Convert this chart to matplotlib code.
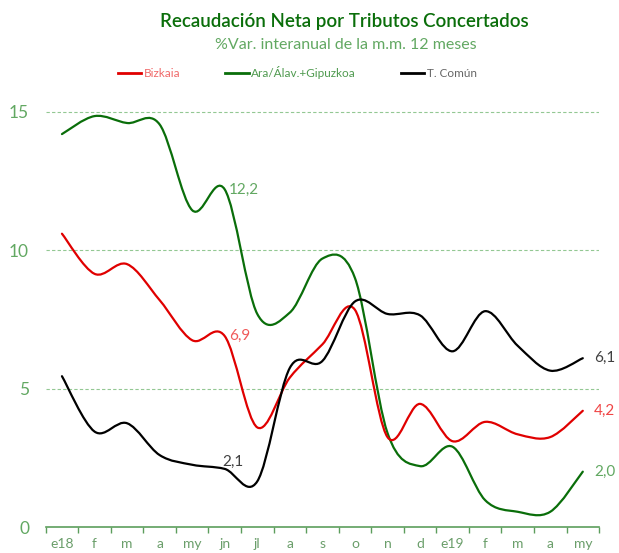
import numpy as np
import matplotlib
matplotlib.use("Agg")
import matplotlib.pyplot as plt
from matplotlib.path import Path
from matplotlib.patches import PathPatch
from matplotlib.lines import Line2D

plt.rcParams["font.family"] = ["Lato", "DejaVu Sans"]

months = ["e18", "f", "m", "a", "my", "jn", "jl", "a", "s", "o", "n", "d",
          "e19", "f", "m", "a", "my"]
bizkaia = [10.6, 9.15, 9.5, 8.2, 6.75, 6.9, 3.6, 5.4, 6.6, 7.85, 3.25, 4.45,
           3.1, 3.8, 3.35, 3.25, 4.2]
ara_gip = [14.2, 14.85, 14.6, 14.55, 11.45, 12.2, 7.7, 7.75, 9.7, 9.0, 3.4, 2.2,
           2.9, 0.97, 0.55, 0.55, 2.0]
t_comun = [5.45, 3.45, 3.75, 2.6, 2.25, 2.1, 1.65, 5.75, 6.0, 8.15, 7.7, 7.65,
           6.35, 7.8, 6.55, 5.65, 6.1]

RED = "#e00000"
GREEN = "#0a6e0a"
BLACK = "#000000"
LGREEN = "#62a862"
AXGREEN = "#5c9e5c"


def smooth_path(y):
    # excel-like smoothed line: bezier through every point
    x = np.arange(len(y), dtype=float)
    y = np.asarray(y, dtype=float)
    pts = np.column_stack([x, y])
    verts = [pts[0]]
    codes = [Path.MOVETO]
    n = len(pts)
    for i in range(n - 1):
        p0 = pts[max(i - 1, 0)]
        p1 = pts[i]
        p2 = pts[i + 1]
        p3 = pts[min(i + 2, n - 1)]
        c1 = p1 + (p2 - p0) / 6.0
        c2 = p2 - (p3 - p1) / 6.0
        verts += [c1, c2, p2]
        codes += [Path.CURVE4] * 3
    return Path(verts, codes)


fig = plt.figure(figsize=(6.19, 5.53), dpi=100)
ax = fig.add_axes([0.0738, 0.047, 0.894, 0.8006])

for val in [5, 10, 15]:
    ax.axhline(val, color="#93c893", lw=0.8, ls=(0, (3, 2)), zorder=1)

for series, col in [(ara_gip, GREEN), (bizkaia, RED), (t_comun, BLACK)]:
    patch = PathPatch(smooth_path(series), fill=False, edgecolor=col, lw=1.6,
                      capstyle="round", joinstyle="round", zorder=3)
    ax.add_patch(patch)

ax.set_xlim(-0.5, len(months) - 0.5)
ax.set_ylim(0, 16)

for s in ["top", "right", "left"]:
    ax.spines[s].set_visible(False)
ax.spines["bottom"].set_color(AXGREEN)
ax.spines["bottom"].set_linewidth(1.2)

ax.set_xticks(np.arange(len(months)))
ax.set_xticklabels(months)
ax.set_xticks(np.arange(len(months) + 1) - 0.5, minor=True)
ax.tick_params(axis="x", which="major", length=0, pad=8, labelsize=10,
               labelcolor="#6a9e6a")
ax.tick_params(axis="x", which="minor", length=4, width=1, color=AXGREEN,
               direction="out")
ax.set_yticks([0, 5, 10, 15])
ax.tick_params(axis="y", length=0, pad=12, labelsize=12.5, labelcolor=LGREEN)

# data labels
lab = dict(fontsize=11, va="center", ha="left")
ax.annotate("12,2", (5, ara_gip[5]), xytext=(3, 0), textcoords="offset points",
            color=LGREEN, **lab)
ax.annotate("6,9", (5, bizkaia[5]), xytext=(3, 0), textcoords="offset points",
            color="#f05a5a", **lab)
ax.annotate("2,1", (5, t_comun[5]), xytext=(-2, 5), textcoords="offset points",
            color="#404040", **lab)
last = len(months) - 1
ax.annotate("6,1", (last, t_comun[last]), xytext=(8, 0), textcoords="offset points",
            color="#404040", **lab)
ax.annotate("4,2", (last, bizkaia[last]), xytext=(8, 0), textcoords="offset points",
            color="#f04545", **lab)
ax.annotate("2,0", (last, ara_gip[last]), xytext=(8, 0), textcoords="offset points",
            color=LGREEN, **lab)

fig.text(0.556, 0.961, "Recaudación Neta por Tributos Concertados",
         ha="center", va="center", fontsize=13.5, fontweight="semibold",
         color=GREEN)
fig.text(0.558, 0.919, "%Var. interanual de la m.m. 12 meses",
         ha="center", va="center", fontsize=11.5, color=LGREEN)

handles = [Line2D([], [], color=RED, lw=2),
           Line2D([], [], color=GREEN, lw=2),
           Line2D([], [], color=BLACK, lw=2)]
leg = fig.legend(handles, ["Bizkaia", "Ara/Álav.+Gipuzkoa", "T. Común"],
                 loc="center", bbox_to_anchor=(0.48, 0.868), ncol=3,
                 frameon=False, fontsize=8.5, handlelength=2.0,
                 handletextpad=0.2, columnspacing=3.8,
                 labelcolor=["#f06a6a", "#4f9a4f", "#666666"])

fig.savefig("out.png", dpi=100)
